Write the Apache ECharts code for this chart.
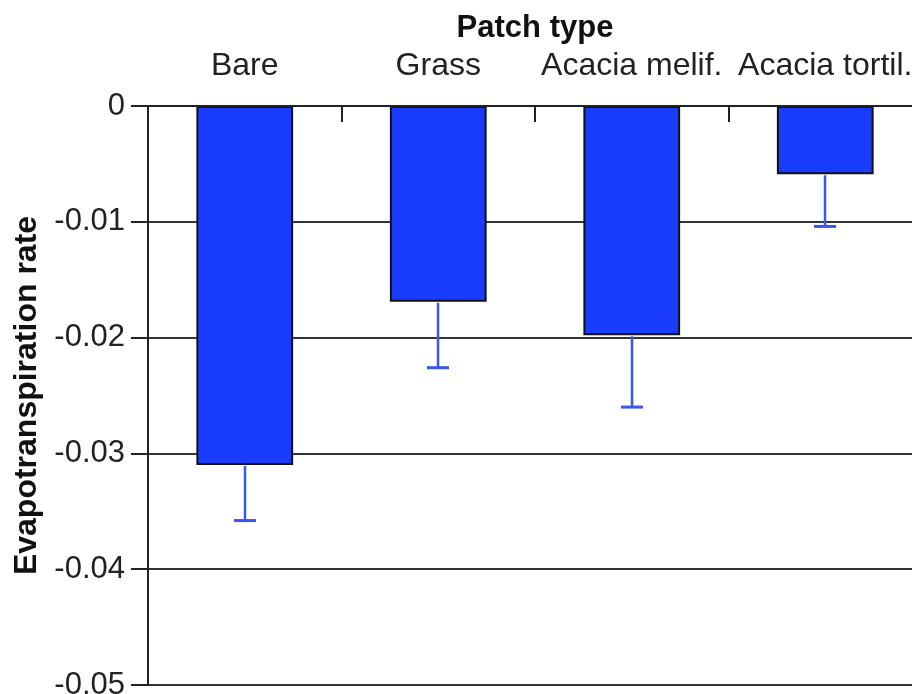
<!DOCTYPE html>
<html>
<head>
<meta charset="utf-8">
<style>
  html, body { margin: 0; padding: 0; background: #fff; }
  #chart { width: 912px; height: 694px; }
</style>
<script src="https://cdn.jsdelivr.net/npm/echarts@6/dist/echarts.min.js"></script>
</head>
<body>
<div id="chart"></div>
<script>
// patch types along the top axis
const categories = ['Bare', 'Grass', 'Acacia melif.', 'Acacia tortil.']
// mean evapotranspiration rate per patch
const means = [-0.0310, -0.0169, -0.0198, -0.0059]
// lower end of the error bar
const errorLow = [-0.0358, -0.0226, -0.0260, -0.0104]
const yTicks = [0, -0.01, -0.02, -0.03, -0.04, -0.05]

const font = 'Liberation Sans, Arial, Helvetica, sans-serif'
const chart = echarts.init(document.getElementById('chart'))

chart.setOption({
  animation: false,
  grid: { left: 148, top: 106, width: 774, height: 579, outerBoundsMode: 'none', containLabel: false },
  xAxis: {
    type: 'category',
    position: 'top',
    data: categories,
    name: 'Patch type',
    nameLocation: 'middle',
    nameGap: 62,
    nameTextStyle: { fontFamily: font, fontSize: 31, fontWeight: 'bold', color: '#111' },
    axisLine: { show: true, lineStyle: { color: '#222', width: 2 } },
    axisTick: { show: true, inside: true, length: 16, interval: 0, lineStyle: { color: '#222', width: 2 } },
    axisLabel: { fontFamily: font, fontSize: 32, color: '#222', margin: 24, interval: 0 },
    splitLine: { show: false },
    z: 5,
  },
  yAxis: {
    type: 'value',
    min: -0.05,
    max: 0,
    interval: 0.01,
    name: 'Evapotranspiration rate',
    nameLocation: 'middle',
    nameGap: 102,
    nameTextStyle: { fontFamily: font, fontSize: 32, fontWeight: 'bold', color: '#111' },
    axisLine: { show: true, lineStyle: { color: '#222', width: 2 } },
    axisTick: { show: true, length: 17, lineStyle: { color: '#222', width: 2 } },
    axisLabel: {
      fontFamily: font,
      fontSize: 31,
      color: '#222',
      margin: 23,
      formatter: v => (yTicks.some(t => Math.abs(t - v) < 1e-9) ? (Math.abs(v) < 1e-9 ? '0' : v.toFixed(2)) : ''),
    },
    splitLine: { show: true, lineStyle: { color: '#333', width: 2 } },
  },
  series: [
    {
      type: 'bar',
      data: means,
      barWidth: '50%',
      itemStyle: { color: '#1a3cff', borderColor: '#111', borderWidth: 2 },
      z: 2,
    },
    {
      type: 'custom',
      data: categories.map((c, i) => [i, means[i], errorLow[i]]),
      z: 3,
      renderItem(params, api) {
        const top = api.coord([api.value(0), api.value(1)])
        const low = api.coord([api.value(0), api.value(2)])
        const x = Math.round(top[0])
        const capHalf = 11
        const style = { stroke: '#3a55f0', lineWidth: 2.5 }
        return {
          type: 'group',
          children: [
            { type: 'line', shape: { x1: x, y1: top[1] + 1, x2: x, y2: low[1] }, style },
            { type: 'line', shape: { x1: x - capHalf, y1: low[1], x2: x + capHalf, y2: low[1] }, style: { stroke: '#3a55f0', lineWidth: 3 } },
          ],
        }
      },
    },
  ],
})
</script>
</body>
</html>
